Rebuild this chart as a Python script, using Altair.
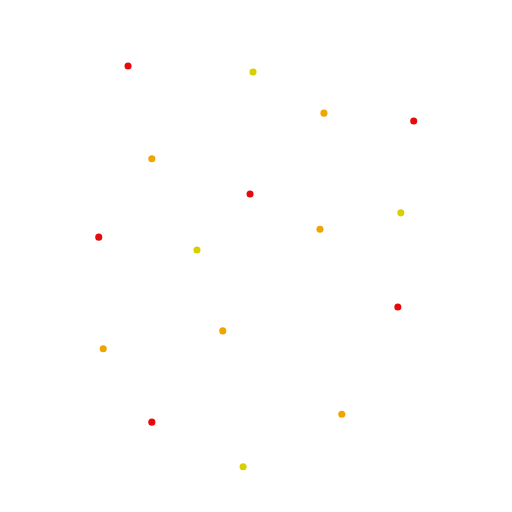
import altair as alt
import pandas as pd

# point values per colour group (0-100 both ways)
red_x = [24.2, 81.8, 48.8, 18.3, 78.6, 29.0]
red_y = [88.3, 77.2, 62.5, 53.8, 39.7, 16.5]
yellow_x = [49.4, 79.2, 38.1, 47.4]
yellow_y = [87.1, 58.7, 51.2, 7.5]
orange_x = [63.7, 29.0, 62.9, 43.3, 19.2, 67.3]
orange_y = [78.8, 69.6, 55.4, 34.9, 31.3, 18.1]

groups = ["red", "yellow", "orange"]
colors = ["#e60a0a", "#d8cf00", "#f0a400"]

rows = []
for g, xs, ys in zip(groups, [red_x, yellow_x, orange_x], [red_y, yellow_y, orange_y]):
    for x, y in zip(xs, ys):
        rows.append({"x": x, "y": y, "group": g})
df = pd.DataFrame(rows)

chart = (
    alt.Chart(df)
    .mark_circle(size=50, opacity=1)
    .encode(
        x=alt.X("x:Q", scale=alt.Scale(domain=[0, 100]), axis=None),
        y=alt.Y("y:Q", scale=alt.Scale(domain=[0, 100]), axis=None),
        color=alt.Color("group:N", scale=alt.Scale(domain=groups, range=colors), legend=None),
    )
    .properties(width=496, height=496, padding=0, autosize="none")
    .configure_view(stroke=None)
)

chart.save("out.html", embed_options={"renderer": "svg", "actions": False})
